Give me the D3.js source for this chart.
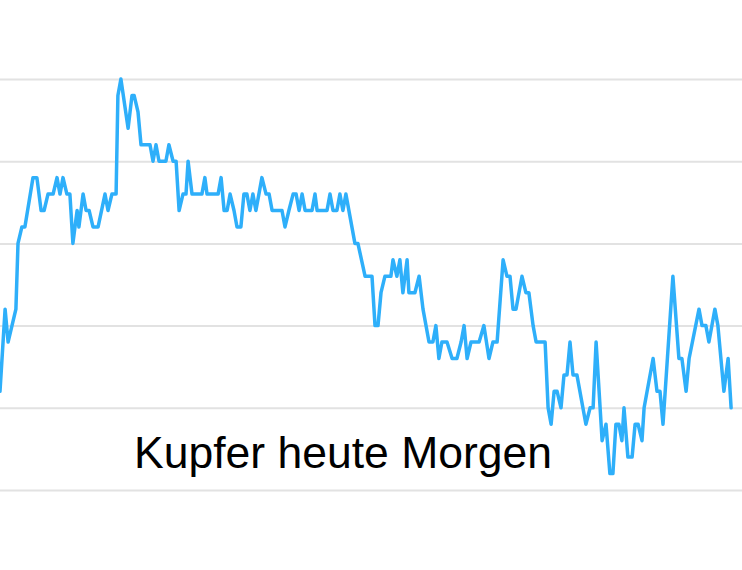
<!DOCTYPE html>
<html>
<head>
<meta charset="utf-8">
<script src="https://cdn.jsdelivr.net/npm/d3@7"></script>
<style>
  html, body { margin: 0; padding: 0; background: #ffffff; }
  svg { display: block; }
</style>
</head>
<body>
<svg id="chart" width="742" height="570"></svg>
<script>
// Minutes since start of the morning session
const minuten = [
  0, 1.7, 2.7, 5.3, 6, 7.3, 8.3, 11, 12.3, 13.7, 14.7, 16, 17.7, 19, 20, 21, 22.3, 23.3, 24.3, 25.7,
  26.3, 27.7, 28.7, 29.7, 31, 32.7, 35, 36, 37.3, 38.7, 39.3, 40.3, 42.7, 44, 44.7, 46, 47, 50, 51, 52,
  53, 55.3, 56.3, 57.7, 58.7, 59.7, 61, 62, 62.7, 64, 67.3, 68.3, 69, 72.7, 73.7, 74.7, 75.7, 76.7, 78, 79,
  80.3, 81.3, 82.3, 83.3, 84.3, 85.3, 86.3, 87.3, 88.7, 89.7, 90.7, 94, 95, 96.3, 97.7, 98.7, 99.7, 100.7, 101.7, 104,
  105, 105.7, 109, 110, 111, 112.3, 113.3, 114.3, 115.3, 118.3, 119.3, 121.7, 124, 125, 126, 127, 128.3, 130.3, 131, 132.3,
  133.3, 134.3, 135.7, 136.3, 138.3, 139.7, 141, 143, 144.3, 145.3, 146.3, 147.3, 149, 150.7, 152.3, 153.7, 154.7, 155.7, 157, 159.7,
  161.3, 163, 164.3, 165.7, 167.7, 169, 170, 171, 172, 174, 175.3, 176.3, 177.7, 178.7, 181.7, 182.7, 183.7, 184.7, 185.7, 187,
  188, 189, 190, 191, 192.3, 195.3, 196.7, 197.7, 198.7, 200.7, 202, 203.3, 204.3, 205.3, 206.3, 207.3, 208, 209.3, 210.7, 211.7,
  212.7, 214, 214.7, 217.7, 219, 220, 221, 224.3, 226.3, 227.3, 228.7, 229.7, 233, 234, 235.3, 236.3, 238.3, 239.3, 241.3, 242.7,
  243.7
];
// Copper price (index points)
const kurs = [
  6, 11, 9, 11, 15, 16, 16, 19, 19, 17, 17, 18, 18, 19, 18, 19, 18, 18, 15, 17,
  16, 18, 17, 17, 16, 16, 18, 17, 18, 18, 24, 25, 22, 24, 24, 23, 21, 21, 20, 21,
  20, 20, 21, 20, 20, 17, 18, 18, 20, 18, 18, 19, 18, 18, 19, 17, 17, 18, 17, 16,
  16, 18, 18, 17, 18, 17, 18, 19, 18, 18, 17, 17, 16, 17, 18, 18, 17, 18, 17, 17,
  18, 17, 17, 18, 17, 17, 18, 17, 18, 15, 15, 13, 13, 10, 10, 12, 13, 13, 14, 13,
  14, 12, 14, 12, 12, 13, 11, 9, 9, 10, 8, 9, 9, 8, 8, 9, 10, 8, 9, 9,
  10, 8, 9, 9, 14, 13, 13, 11, 11, 13, 12, 12, 10, 9, 9, 5, 4, 6, 6, 5,
  7, 7, 9, 7, 7, 4, 5, 5, 9, 3, 4, 1, 1, 4, 4, 3, 5, 2, 2, 4,
  4, 3, 5, 8, 6, 6, 4, 13, 8, 8, 6, 8, 11, 10, 10, 9, 11, 10, 6, 8,
  5
];
const gitterWerte = [0, 5, 10, 15, 20, 25];
const titel = "Kupfer heute Morgen";

const W = 742, H = 570;
const svg = d3.select("#chart");

const x = d3.scaleLinear().domain([0, 244]).range([0, 732]);
const y = d3.scaleLinear().domain([0, 25]).range([490, 79]);

// grid lines via axis
const yAxis = d3.axisRight(y).tickValues(gitterWerte).tickSize(W).tickFormat("");
const g = svg.append("g").attr("transform", "translate(0,0)").call(yAxis);
g.select(".domain").remove();
g.selectAll(".tick line")
  .attr("stroke", "#e2e2e2")
  .attr("stroke-width", 2);

const data = minuten.map((m, i) => ({ m, v: kurs[i] }));
const line = d3.line().x(d => x(d.m)).y(d => y(d.v));

svg.append("path")
  .datum(data)
  .attr("d", line)
  .attr("fill", "none")
  .attr("stroke", "#2eaffa")
  .attr("stroke-width", 3.5)
  .attr("stroke-linejoin", "round")
  .attr("stroke-linecap", "round");

svg.append("text")
  .attr("x", 343)
  .attr("y", 468)
  .attr("text-anchor", "middle")
  .attr("font-family", "Liberation Sans, Arial, Helvetica, sans-serif")
  .attr("font-size", 44.5)
  .attr("fill", "#000")
  .text(titel);
</script>
</body>
</html>
